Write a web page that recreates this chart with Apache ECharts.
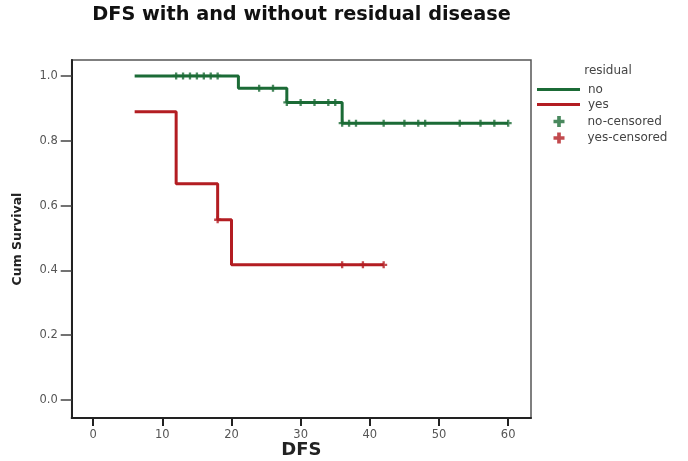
<!DOCTYPE html>
<html>
<head>
<meta charset="utf-8">
<script src="https://cdn.jsdelivr.net/npm/echarts@6/dist/echarts.min.js"></script>
<style>
  html, body { margin: 0; padding: 0; background: #fff; }
  #chart { width: 688px; height: 461px; }
</style>
</head>
<body>
<div id="chart"></div>
<script>
// Kaplan-Meier step curves: event times and survival after each step
const noTimes = [6, 21, 28, 36, 60];
const noSurv = [1.0, 0.962, 0.918, 0.854, 0.854];
const yesTimes = [6, 12, 18, 20, 42];
const yesSurv = [0.889, 0.667, 0.556, 0.417, 0.417];

// Censoring times per group
const noCensored = [12, 13, 14, 15, 16, 17, 18, 24, 26, 28, 30, 32, 34, 35,
                    36, 37, 38, 42, 45, 47, 48, 53, 56, 58, 60];
const yesCensored = [18, 36, 39, 42];

// Axis ticks
const xTicks = [0, 10, 20, 30, 40, 50, 60];
const yTicks = [0, 0.2, 0.4, 0.6, 0.8, 1.0];

const GREEN = '#1b6b36';
const RED = '#b31d22';
const FONT = 'DejaVu Sans';
const PLUS = 'path://M2,0H4V2H6V4H4V6H2V4H0V2H2Z';

function zip(xs, ys) { return xs.map((x, i) => [x, ys[i]]); }
// survival level in force at time t (after any step at t)
function levelAt(times, surv, t) {
  let v = surv[0];
  for (let i = 0; i < times.length; i++) if (times[i] <= t) v = surv[i];
  return v;
}
function censorPoints(cens, times, surv) {
  return cens.map(t => [t, levelAt(times, surv, t)]);
}

const chart = echarts.init(document.getElementById('chart'), null, { renderer: 'canvas' });

chart.setOption({
  animation: false,
  backgroundColor: '#fff',
  grid: {
    left: 71.7, right: 157, top: 60, bottom: 43,
    containLabel: false, outerBoundsMode: 'none',
    show: true, borderColor: '#555', borderWidth: 1.5, backgroundColor: 'transparent'
  },
  xAxis: {
    type: 'value', min: -3.1, max: 63.3,
    name: 'DFS', nameLocation: 'middle', nameGap: 32, nameMoveOverlap: false,
    nameTextStyle: {
      fontFamily: FONT, fontWeight: 'bold', fontSize: 18, color: '#222', verticalAlign: 'middle'
    },
    axisLine: { show: true, onZero: false, lineStyle: { color: '#222', width: 2 } },
    axisTick: { show: true, length: 8, customValues: xTicks, lineStyle: { color: '#222', width: 2 } },
    axisLabel: { customValues: xTicks, margin: 11, fontFamily: FONT, fontSize: 11.5, color: '#555' },
    splitLine: { show: false }
  },
  yAxis: {
    type: 'value', min: -0.0556, max: 1.049,
    name: 'Cum Survival', nameLocation: 'middle', nameRotate: 90, nameGap: 47,
    nameTextStyle: { fontFamily: FONT, fontWeight: 'bold', fontSize: 12.5, color: '#222' },
    axisLine: { show: true, onZero: false, lineStyle: { color: '#222', width: 2 } },
    axisTick: { show: true, length: 11, customValues: yTicks, lineStyle: { color: '#444', width: 1.5 } },
    axisLabel: {
      customValues: yTicks, margin: 14, fontFamily: FONT, fontSize: 11.5, color: '#555',
      formatter: v => v.toFixed(1)
    },
    splitLine: { show: false }
  },
  legend: [
    {
      data: ['no', 'yes'], orient: 'vertical', left: 537, top: 83, padding: 0,
      icon: 'rect', itemWidth: 43, itemHeight: 3, itemGap: 2,
      textStyle: { fontFamily: FONT, fontSize: 12, color: '#444', lineHeight: 13, padding: [0, 0, 0, 3] },
      selectedMode: false
    },
    {
      data: ['no-censored', 'yes-censored'], orient: 'vertical', left: 553.5, top: 115, padding: 0,
      icon: PLUS, itemWidth: 11, itemHeight: 11, itemGap: 3.5,
      textStyle: { fontFamily: FONT, fontSize: 12, color: '#444', lineHeight: 13, padding: [0, 0, 0, 18] },
      selectedMode: false
    }
  ],
  graphic: [
    {
      type: 'text', x: 301.5, y: 14.5,
      style: {
        text: 'DFS with and without residual disease', fill: '#111',
        fontFamily: FONT, fontWeight: 'bold', fontSize: 19.3,
        align: 'center', verticalAlign: 'middle'
      }
    },
    {
      type: 'text', x: 608, y: 71,
      style: {
        text: 'residual', fill: '#444', fontFamily: FONT, fontSize: 12,
        align: 'center', verticalAlign: 'middle'
      }
    }
  ],
  series: [
    {
      name: 'no', type: 'line', step: 'end', data: zip(noTimes, noSurv),
      showSymbol: false, symbol: 'none', color: GREEN,
      lineStyle: { color: GREEN, width: 3 }, z: 2
    },
    {
      name: 'yes', type: 'line', step: 'end', data: zip(yesTimes, yesSurv),
      showSymbol: false, symbol: 'none', color: RED,
      lineStyle: { color: RED, width: 3 }, z: 2
    },
    {
      name: 'no-censored', type: 'scatter', symbol: PLUS, symbolSize: 7,
      data: censorPoints(noCensored, noTimes, noSurv),
      itemStyle: { color: GREEN }, z: 3
    },
    {
      name: 'yes-censored', type: 'scatter', symbol: PLUS, symbolSize: 7,
      data: censorPoints(yesCensored, yesTimes, yesSurv),
      itemStyle: { color: RED }, z: 3
    }
  ]
});
</script>
</body>
</html>
